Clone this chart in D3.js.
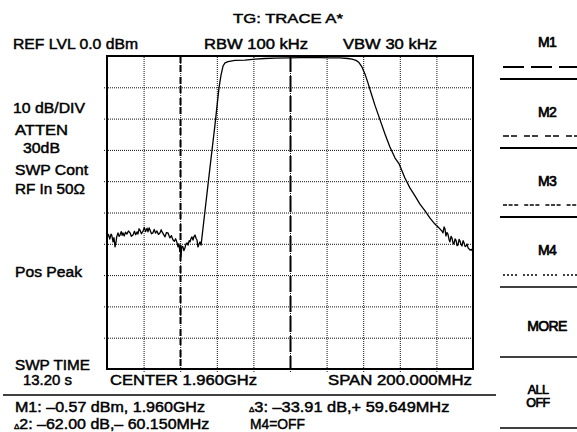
<!DOCTYPE html>
<html><head><meta charset="utf-8">
<script src="https://cdn.jsdelivr.net/npm/d3@7"></script>
<style>
html,body{margin:0;padding:0;background:#fff;}
svg{display:block;background:#fff;}
text{font-family:"Liberation Sans",Arial,Helvetica,sans-serif;fill:#000;stroke:#000;stroke-width:0.45px;}
</style></head><body>
<svg id="c" width="577" height="432"></svg>
<script>
// Sweep: 1.860 – 2.060 GHz (center 1.960 GHz, span 200 MHz), ref level 0 dBm, 10 dB/div
const spanMHz = [1860, 2060];
const levelRangeDbm = [-100, 0];

// Trace A, frequency in MHz and level in dBm
const freqMHz = [
  // noise floor below the passband
  1860.0, 1860.8, 1861.5, 1862.2, 1862.6, 1863.3, 1863.8, 1864.4, 1865.0, 1865.3,
  1866.0, 1866.6, 1867.1, 1867.8, 1868.3, 1868.7, 1869.4, 1870.1, 1870.9, 1871.7,
  1872.6, 1873.3, 1874.2, 1875.0, 1875.7, 1876.4, 1876.9, 1877.5, 1878.0, 1878.8,
  1879.7, 1880.4, 1881.1, 1881.9, 1882.4, 1883.0, 1883.5, 1884.3, 1885.1, 1885.8,
  1886.5, 1887.3, 1888.1, 1889.0, 1889.6, 1890.1, 1890.9, 1891.7, 1892.5, 1893.3,
  1894.0, 1894.4, 1895.2, 1896.1, 1896.8, 1897.5, 1898.3, 1898.8, 1899.3, 1899.85,
  1900.1, 1900.4, 1900.9, 1901.5, 1902.0, 1902.6, 1903.1, 1903.7, 1904.3, 1904.9,
  1905.4, 1905.9, 1906.4, 1907.0, 1907.6, 1908.1, 1908.7, 1909.2, 1909.7, 1910.2,
  1910.8, 1911.4,
  // lower skirt and passband
  1913.6, 1916.3, 1919.0, 1921.2, 1922.3, 1923.4, 1924.5, 1926.1, 1929.9, 1935.4,
  1940.9, 1946.3, 1951.8, 1960.0, 1965.5, 1970.9, 1976.4, 1981.9, 1987.3, 1991.7,
  // upper skirt
  1993.9, 1996.1, 1997.7, 1999.3, 2001.0, 2002.6, 2004.3, 2006.4, 2009.2, 2011.9,
  2014.6, 2017.4, 2019.649, 2022.8, 2025.6, 2028.3, 2031.0, 2033.8, 2036.5, 2039.2,
  // noise above the passband
  2042.0, 2043.0, 2043.6, 2044.2, 2044.7, 2045.2, 2045.8, 2046.3, 2046.9, 2047.4,
  2048.0, 2048.5, 2049.1, 2049.6, 2050.2, 2050.7, 2051.3, 2051.8, 2052.4, 2052.9,
  2053.5, 2054.0, 2054.6, 2055.1, 2055.7, 2056.2, 2056.8, 2057.3, 2058.4, 2059.2,
  2060.0
];
const levelDbm = [
  -58.1, -57.0, -58.5, -56.9, -57.2, -59.4, -58.0, -61.0, -59.2, -57.8,
  -56.5, -57.6, -57.2, -56.1, -57.3, -56.5, -57.5, -56.3, -56.9, -55.9,
  -56.5, -57.6, -57.2, -56.0, -57.1, -56.2, -56.9, -55.2, -55.6, -56.8,
  -55.9, -54.8, -56.1, -55.0, -56.2, -54.9, -55.6, -56.8, -56.5, -55.4,
  -56.6, -55.9, -57.0, -56.5, -55.5, -56.2, -57.0, -57.8, -56.4, -56.5,
  -57.6, -58.1, -57.4, -58.8, -59.2, -58.4, -59.7, -61.0, -60.0, -62.57,
  -61.4, -64.2, -60.8, -61.0, -62.2, -61.3, -60.1, -59.7, -60.4, -59.0,
  -59.4, -58.3, -57.8, -58.8, -57.6, -57.2, -58.3, -58.8, -61.0, -60.2,
  -59.4, -60.4,
  -49.2, -35.5, -22.0, -10.2, -6.1, -3.2, -2.2, -1.8, -1.4, -1.3,
  -1.0, -0.8, -0.7, -0.57, -0.5, -0.5, -0.5, -0.6, -0.6, -0.8,
  -1.0, -1.4, -2.1, -3.5, -5.8, -8.6, -11.8, -15.7, -20.4, -24.9,
  -29.1, -32.6, -34.48, -39.0, -42.2, -44.7, -47.3, -49.5, -51.8, -53.7,
  -55.3, -55.9, -56.5, -54.6, -55.3, -57.5, -56.4, -56.9, -58.6, -59.4,
  -57.6, -58.1, -59.8, -60.1, -58.4, -58.8, -60.6, -60.4, -58.6, -59.1,
  -60.3, -60.7, -59.0, -59.7, -60.9, -60.7, -60.1, -61.3, -62.0, -61.8,
  -62.6
];

// Graticule
const xGridMHz = [1880, 1900, 1920, 1940, 1960, 1980, 2000, 2020, 2040];
const yGridDbm = [-10, -20, -30, -40, -50, -60, -70, -80, -90];

// Active marker lines
const markerFreqMHz = [1960, 1899.85];
const markerDash = ["16,4", "7,2,7,5"];

// Header / side / footer readouts
const titleText = "TG: TRACE A*";
const headerTexts = ["REF LVL 0.0 dBm", "RBW  100 kHz", "VBW  30 kHz"];
const sideTexts = ["10 dB/DIV", "ATTEN", "30dB", "SWP Cont", "RF In 50\u03A9", "Pos Peak", "SWP TIME", "13.20 s"];
const footerTexts = ["CENTER  1.960GHz", "SPAN  200.000MHz"];
// readouts: [prefix symbol, rest of line]
const readoutTexts = [
  ["", "M1: \u20130.57 dBm, 1.960GHz"],
  ["\u0394", "2: \u201362.00 dB,\u2013 60.150MHz"],
  ["\u0394", "3: \u201333.91 dB,+ 59.649MHz"],
  ["", "M4=OFF"]
];

// Soft-key menu
const softKeys = [["M1"], ["M2"], ["M3"], ["M4"], ["MORE"], ["ALL", "OFF"]];
const softKeyDash = ["21,7", "6,2,6,7", "4,1.6,4,1.6,4,6", "2,2,2,2,2,2,2,6", null, null];

const svg = d3.select("#c");

const plot = {left: 107, right: 473, top: 56, bottom: 369};
const x = d3.scaleLinear().domain(spanMHz).range([plot.left, plot.right]);
const y = d3.scaleLinear().domain(levelRangeDbm).range([plot.bottom, plot.top]);

// dotted graticule, drawn with axes whose ticks span the screen
const gGridX = svg.append("g")
  .attr("transform", `translate(0,${plot.bottom + 3})`)
  .call(d3.axisBottom(x).tickValues(xGridMHz).tickSize(-(plot.bottom - plot.top + 3)).tickFormat(""));
const gGridY = svg.append("g")
  .attr("transform", `translate(${plot.left - 3},0)`)
  .call(d3.axisLeft(y).tickValues(yGridDbm).tickSize(-(plot.right - plot.left + 3)).tickFormat(""));
[gGridX, gGridY].forEach(g => {
  g.select(".domain").remove();
  g.selectAll(".tick line").attr("stroke", "#111").attr("stroke-width", 1).attr("stroke-dasharray", "1,1");
});

// marker lines
svg.append("g").selectAll("line").data(markerFreqMHz).join("line")
  .attr("x1", d => Math.round(x(d)) + 0.5).attr("x2", d => Math.round(x(d)) + 0.5)
  .attr("y1", plot.top).attr("y2", plot.bottom)
  .attr("stroke", "#000").attr("stroke-width", 2)
  .attr("stroke-dasharray", (d, i) => markerDash[i]);

// trace
const pts = freqMHz.map((f, i) => [f, levelDbm[i]]);
svg.append("path")
  .datum(pts)
  .attr("fill", "none").attr("stroke", "#000").attr("stroke-width", 1.3)
  .attr("stroke-linejoin", "round")
  .attr("d", d3.line().x(d => x(d[0])).y(d => y(d[1])));

// frame
svg.append("rect")
  .attr("x", plot.left).attr("y", plot.top)
  .attr("width", plot.right - plot.left).attr("height", plot.bottom - plot.top)
  .attr("fill", "none").attr("stroke", "#000").attr("stroke-width", 2);

function label(t, xPos, yPos, len, size, anchor) {
  const el = svg.append("text")
    .attr("x", xPos).attr("y", yPos)
    .attr("font-size", size || 14)
    .attr("text-anchor", anchor || "start")
    .text(t);
  if (len) el.attr("textLength", len).attr("lengthAdjust", "spacingAndGlyphs");
  return el;
}

label(titleText, 233, 23, 110, 13);
label(headerTexts[0], 13, 49, 125);
label(headerTexts[1], 204, 49, 104);
label(headerTexts[2], 343, 49, 94);

const sidePos = [[13, 113, 72], [15, 135, 53], [23, 153, 37], [15, 175, 73], [15, 194, 70], [15, 277, 67], [15, 370, 75], [23, 385, 49]];
sideTexts.forEach((t, i) => label(t, sidePos[i][0], sidePos[i][1], sidePos[i][2]));

label(footerTexts[0], 110, 385, 147);
label(footerTexts[1], 328, 385, 144);

svg.append("line").attr("x1", 3).attr("x2", 496).attr("y1", 395).attr("y2", 395)
  .attr("stroke", "#000").attr("stroke-width", 1.6);

const readPos = [[15, 412, 190], [14, 429, 196], [249, 412, 201], [250, 429, 55]];
readoutTexts.forEach((r, i) => {
  const t = svg.append("text").attr("x", readPos[i][0]).attr("y", readPos[i][1]).attr("font-size", 14);
  if (r[0]) t.append("tspan").attr("font-size", 8).text(r[0]);
  const rest = t.append("tspan").text(r[1]);
  rest.attr("textLength", readPos[i][2] - (r[0] ? 6 : 0)).attr("lengthAdjust", "spacingAndGlyphs");
});

// soft keys
const keyTop = [9, 79, 148, 217, 287, 357];
const keyBottom = [79, 148, 217, 287, 357, 428];
softKeys.forEach((lines, i) => {
  if (lines.length === 1) {
    const base = i === 4 ? keyTop[i] + 44 : keyTop[i] + 38;
    label(lines[0], 547, base, null, 14, "middle").attr("letter-spacing", -0.6).style("stroke-width", "0.7px");
  } else {
    label(lines[0], 538, keyTop[i] + 37, null, 12.5, "middle").attr("letter-spacing", -0.5).style("stroke-width", "0.7px");
    label(lines[1], 538, keyTop[i] + 50, null, 12.5, "middle").attr("letter-spacing", -0.5).style("stroke-width", "0.7px");
  }
  if (softKeyDash[i]) {
    svg.append("line").attr("x1", 503).attr("x2", 577)
      .attr("y1", keyBottom[i] - 12).attr("y2", keyBottom[i] - 12)
      .attr("stroke", "#000").attr("stroke-width", i === 0 ? 2 : 1.6)
      .attr("stroke-dasharray", softKeyDash[i]);
  }
  svg.append("line").attr("x1", 500).attr("x2", 577)
    .attr("y1", keyBottom[i]).attr("y2", keyBottom[i])
    .attr("stroke", "#000").attr("stroke-width", i < 3 ? 2 : 1.5);
});
</script>
</body></html>
